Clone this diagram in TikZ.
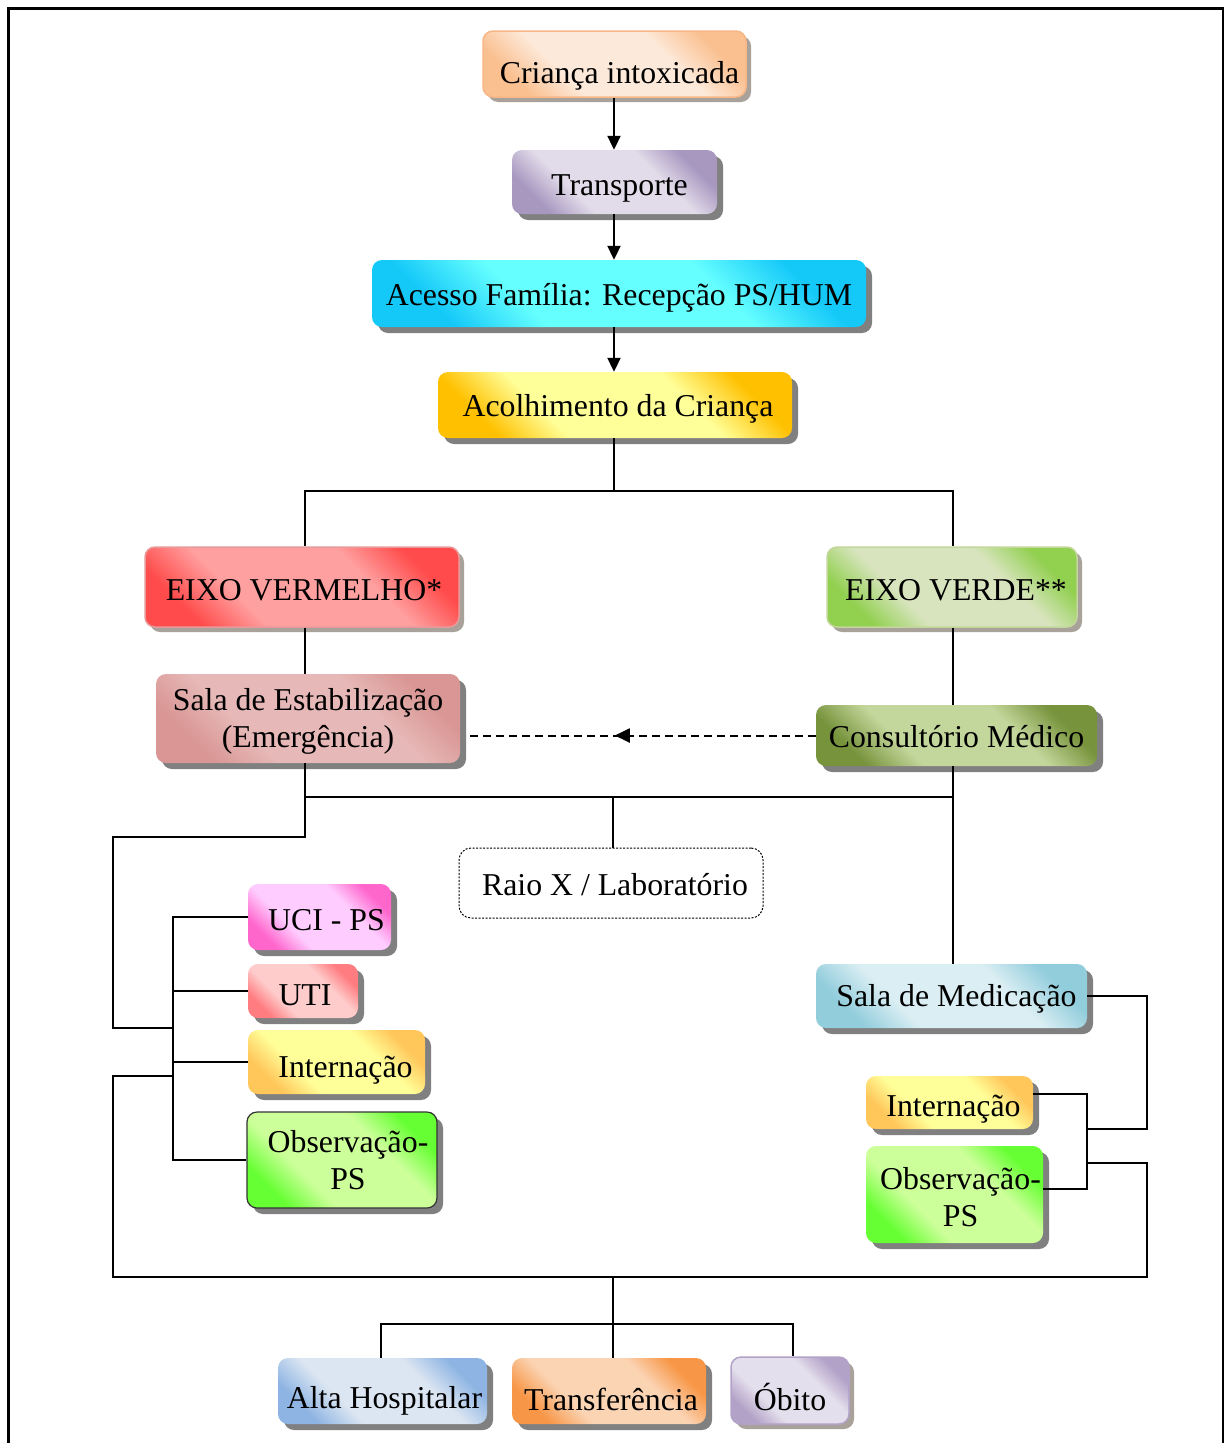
\documentclass[tikz,border=0pt]{standalone}
\usepackage{fontspec}
\setmainfont{Liberation Serif}
\usetikzlibrary{shadows,arrows.meta,decorations.markings}
\definecolor{shgray}{HTML}{808080}
\definecolor{sh3d}{HTML}{A8A29A}
\definecolor{crD}{HTML}{FAC090}\definecolor{crL}{HTML}{FDE9D9}\definecolor{crB}{HTML}{F8B787}
\definecolor{trD}{HTML}{A898C0}\definecolor{trL}{HTML}{E2DCEA}
\definecolor{acD}{HTML}{14C8F8}\definecolor{acL}{HTML}{66FFFF}
\definecolor{aoD}{HTML}{FFC000}\definecolor{aoL}{HTML}{FFFF99}
\definecolor{rdD}{HTML}{FF4B4B}\definecolor{rdL}{HTML}{FFA0A0}\definecolor{rdB}{HTML}{E89A9A}
\definecolor{gnD}{HTML}{92D050}\definecolor{gnL}{HTML}{D7E4BD}\definecolor{gnB}{HTML}{C3D69B}
\definecolor{esD}{HTML}{D99694}\definecolor{esL}{HTML}{E6B9B8}
\definecolor{coD}{HTML}{77933C}\definecolor{coL}{HTML}{C3D69B}
\definecolor{ucD}{HTML}{FF66CC}\definecolor{ucL}{HTML}{FFCCFF}
\definecolor{utD}{HTML}{FF7C80}\definecolor{utL}{HTML}{FFCCCC}
\definecolor{inD}{HTML}{FFC65A}\definecolor{inL}{HTML}{FFFF99}
\definecolor{obD}{HTML}{66FF33}\definecolor{obL}{HTML}{CCFF99}
\definecolor{meD}{HTML}{92CDDC}\definecolor{meL}{HTML}{DAEEF3}
\definecolor{alD}{HTML}{8EB4E3}\definecolor{alL}{HTML}{DCE6F2}
\definecolor{tfD}{HTML}{F79646}\definecolor{tfL}{HTML}{FBD4B4}
\definecolor{otD}{HTML}{B3A2C7}\definecolor{otL}{HTML}{E4DFEC}
\colorlet{gdk}{black}\colorlet{glt}{white}
\pgfdeclareverticalshading[gdk,glt]{wordgrad}{100bp}{color(0bp)=(gdk); color(25bp)=(gdk); color(37bp)=(glt); color(63bp)=(glt); color(75bp)=(gdk); color(100bp)=(gdk)}
\begin{document}
\begin{tikzpicture}[x=1pt,y=-1pt,
  boxbase/.style={rounded corners=10pt, inner sep=0pt},
  box/.style={boxbase, drop shadow={shadow xshift=6pt, shadow yshift=-6pt, opacity=1, fill=shgray}},
  boxtd/.style={boxbase, drop shadow={shadow xshift=5pt, shadow yshift=-5pt, opacity=1, fill=sh3d}},
  grad/.style 2 args={/utils/exec={\colorlet{gdk}{#1}\colorlet{glt}{#2}}, shade, shading=wordgrad, shading angle=-45},
  lbl/.style={font=\fontsize{31.8}{37}\selectfont, align=center, inner sep=0pt},
  conn/.style={line width=2pt},
  arr/.style={line width=2pt, -{Triangle[length=14pt,width=13pt]}},
  dasharr/.style={line width=2pt, dash pattern=on 8pt off 5pt,
    postaction={decorate},
    decoration={markings, mark=at position 201pt with {\arrow{Triangle[length=15pt,width=14pt]}}}},
  dotbox/.style={rounded corners=12pt, inner sep=0pt, draw, line width=1pt,
    dash pattern=on 2pt off 1.5pt}
]
\useasboundingbox (0,0) rectangle (1227,1443);
\draw[line width=2.8pt] (8.5,8.5) rectangle (1223,1470);

% nodes
\node[boxtd, grad={crD}{crL}, draw=crB, line width=1.5pt, minimum width=263, minimum height=66,
  label={[lbl, xshift=5pt, yshift=-12pt]center:Criança intoxicada}] (crianca) at (614.5,64) {};
\node[box, grad={trD}{trL}, minimum width=205, minimum height=64,
  label={[lbl, xshift=5pt, yshift=-6pt]center:Transporte}] (transp) at (614.5,182) {};
\node[box, grad={acD}{acL}, minimum width=494, minimum height=67,
  label={[lbl, yshift=-4pt]center:Acesso Família: Recepção PS/HUM}] (acesso) at (619,293.5) {};
\node[box, grad={aoD}{aoL}, minimum width=354, minimum height=66,
  label={[lbl, xshift=3pt, yshift=-4pt]center:Acolhimento da Criança}] (acolh) at (615,405) {};
\node[boxtd, grad={rdD}{rdL}, draw=rdB, line width=1.5pt, minimum width=314, minimum height=80,
  label={[lbl, xshift=2pt, yshift=-3pt]center:EIXO VERMELHO*}] (eixover) at (302,587) {};
\node[boxtd, grad={gnD}{gnL}, draw=gnB, line width=1.5pt, minimum width=250, minimum height=80,
  label={[lbl, xshift=4pt, yshift=-3pt]center:EIXO VERDE**}] (eixoverde) at (952,587) {};
\node[box, grad={esD}{esL}, minimum width=304, minimum height=89,
  label={[lbl, yshift=-3pt]center:Sala de Estabilização\\(Emergência)}] (estab) at (308,718.5) {};
\node[box, grad={coD}{coL}, minimum width=281, minimum height=61,
  label={[lbl, yshift=-1pt]center:Consultório Médico}] (consult) at (956.5,735.5) {};
\node[dotbox, minimum width=304, minimum height=70,
  label={[lbl, xshift=4pt, yshift=-2pt]center:Raio X / Laboratório}] (raio) at (611,883) {};
\node[box, grad={ucD}{ucL}, minimum width=143, minimum height=66,
  label={[lbl, xshift=7pt, yshift=-3pt]center:UCI - PS}] (uci) at (319.5,917) {};
\node[box, grad={utD}{utL}, minimum width=110, minimum height=54,
  label={[lbl, xshift=2pt, yshift=-4pt]center:UTI}] (uti) at (303,991) {};
\node[box, grad={inD}{inL}, minimum width=177, minimum height=64,
  label={[lbl, xshift=9pt, yshift=-8pt]center:Internação}] (intL) at (336.5,1062) {};
\node[box, grad={obD}{obL}, draw=black!80, line width=1.2pt, minimum width=190, minimum height=96,
  label={[lbl, xshift=6pt, yshift=0pt]center:Observação-\\PS}] (obsL) at (342,1160) {};
\node[box, grad={meD}{meL}, minimum width=271, minimum height=64,
  label={[lbl, xshift=5pt, yshift=-3pt]center:Sala de Medicação}] (medic) at (951.5,996) {};
\node[box, grad={inD}{inL}, minimum width=167, minimum height=53,
  label={[lbl, xshift=4pt, yshift=-7pt]center:Internação}] (intR) at (949.5,1102.5) {};
\node[box, grad={obD}{obL}, minimum width=177, minimum height=97,
  label={[lbl, xshift=6pt, yshift=-3pt]center:Observação-\\PS}] (obsR) at (954.5,1194.5) {};
\node[box, grad={alD}{alL}, minimum width=209, minimum height=66,
  label={[lbl, xshift=2pt, yshift=-10pt]center:Alta Hospitalar}] (alta) at (382.5,1391) {};
\node[box, grad={tfD}{tfL}, minimum width=194, minimum height=66,
  label={[lbl, xshift=2pt, yshift=-8pt]center:Transferência}] (transf) at (609,1391) {};
\node[boxtd, grad={otD}{otL}, draw=otD, line width=1.5pt, minimum width=118, minimum height=67,
  label={[lbl, yshift=-6pt]center:Óbito}] (obito) at (790,1390.5) {};

% junction coordinates
\coordinate (lbx) at (173,0);
\coordinate (rbx) at (1087,0);

% top chain
\draw[arr] (crianca.south -| 614,0) -- (transp.north -| 614,0);
\draw[arr] (transp.south -| 614,0) -- (acesso.north -| 614,0);
\draw[arr] (acesso.south -| 614,0) -- (acolh.north -| 614,0);

% split to the two axes
\draw[conn] (acolh.south -| 614,0) -- (614,491) -| (eixover.north -| 305,0);
\draw[conn] (614,491) -| (eixoverde.north -| 953,0);
\draw[conn] (eixover.south -| 305,0) -- (estab.north -| 305,0);
\draw[conn] (eixoverde.south -| 953,0) -- (consult.north -| 953,0);

% dashed arrow
\draw[dasharr] (consult.west) -- (consult.west -| 466,0);

% bus at 797
\draw[conn] (estab.south -| 305,0) -- (305,797) -- (953,797);
\draw[conn] (consult.south -| 953,0) -- (medic.north -| 953,0);
\draw[conn] (613,797) -- (raio.north -| 613,0);

% left loop to the left bus
\draw[conn] (305,797) |- (113,837) |- (lbx |- 0,1028);
\draw[conn] (uci.west) -| (lbx |- obsL.west) -- (obsL.west);
\draw[conn] (uti.west) -- (uti.west -| lbx);
\draw[conn] (intL.west) -- (intL.west -| lbx);

% right side
\draw[conn] (medic.east) -| (1147,1129) -- (rbx |- 0,1129);
\draw[conn] (intR.east |- 0,1094) -| (rbx |- 0,1189) -- (obsR.east |- 0,1189);

% bottom loop
\draw[conn] (lbx |- 0,1076) -| (113,1277) -| (1147,1163) -- (rbx |- 0,1163);
\draw[conn] (613,1277) -- (transf.north -| 613,0);
\draw[conn] (alta.north -| 381,0) |- (613,1324) -| (obito.north -| 793,0);
\end{tikzpicture}
\end{document}
